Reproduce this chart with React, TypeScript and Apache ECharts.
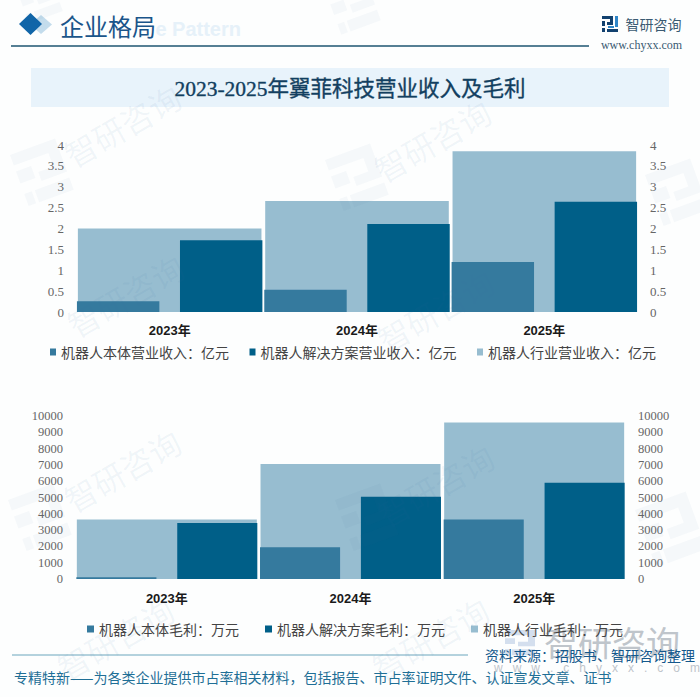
import React, { useEffect, useRef } from "react";
import * as echarts from "echarts";

const years = ["2023年", "2024年", "2025年"];
const revenueBody = [0.26, 0.53, 1.2];
const revenueSolution = [1.72, 2.11, 2.64];
const revenueIndustry = [2.0, 2.66, 3.85];
const profitBody = [100, 1950, 3650];
const profitSolution = [3440, 5050, 5900];
const profitIndustry = [3650, 7050, 9600];

const revenueNames = ["机器人本体营业收入：亿元", "机器人解决方案营业收入：亿元", "机器人行业营业收入：亿元"];
const profitNames = ["机器人本体毛利：万元", "机器人解决方案毛利：万元", "机器人行业毛利：万元"];

const mainTitle = "2023-2025年翼菲科技营业收入及毛利";
const sectionTitle = "企业格局";
const sourceText = "资料来源：招股书、智研咨询整理";
const footerText = "专精特新——为各类企业提供市占率相关材料，包括报告、市占率证明文件、认证宣发文章、证书";

const C_BODY = "#357a9e";
const C_SOL = "#005f88";
const C_IND = "#97bdd0";
const CJK = '"Noto Sans CJK SC", sans-serif';

const LOGO_D = "M0 0H11V9H5V6H8V3H0ZM0 5H3V10H0ZM0 12H3V16H0ZM5 13H16V16H5Z";
const LOGO_D2 = "M13 0H16V11H13ZM6 10H12V12H6Z";
const MARK_D = "M0 0H60V44H26V32H46V14H0ZM0 22H20V38H0ZM14 52H60V68H14ZM0 52H10V68H0Z";

function wmText(x: number, y: number, size: number, rot = 0.52) {
  return {
    type: "text", x, y, rotation: rot, z: 50, silent: true,
    style: { text: "智研咨询", fill: "rgba(60,110,160,0.065)", font: `${size}px ${CJK}`, textAlign: "center", textVerticalAlign: "middle" },
  };
}
function wmMark(x: number, y: number, s: number) {
  return { type: "wmMark", x, y, scaleX: s, scaleY: s, rotation: 0.35, z: 50, silent: true, style: { fill: "rgba(60,110,160,0.04)" } };
}
function txt(text: string, x: number, y: number, font: string, fill: string, align = "left", z = 60) {
  return { type: "text", x, y, z, silent: true, style: { text, font, fill, textAlign: align, textVerticalAlign: "middle" } };
}

function panel(i: number, names: string[], body: number[], sol: number[], ind: number[], widths: [string, string, string]) {
  return [
    { name: names[2], type: "bar", xAxisIndex: i * 2 + 1, yAxisIndex: i * 2, data: ind, barWidth: widths[1], z: 1, itemStyle: { color: C_IND } },
    { name: names[0], type: "bar", xAxisIndex: i * 2, yAxisIndex: i * 2, data: body, barWidth: widths[0], barGap: widths[2], z: 3, itemStyle: { color: C_BODY } },
    { name: names[1], type: "bar", xAxisIndex: i * 2, yAxisIndex: i * 2, data: sol, barWidth: widths[0], barGap: widths[2], z: 3, itemStyle: { color: C_SOL } },
  ];
}

function xAxes(i: number, margin: number) {
  return [
    {
      type: "category", gridIndex: i, data: years,
      axisLine: { show: false }, axisTick: { show: false },
      axisLabel: { margin, color: "#1a1a1a", fontWeight: "bold", fontSize: 13, fontFamily: '"Liberation Sans", "Noto Sans CJK SC", sans-serif' },
    },
    { type: "category", gridIndex: i, data: years, show: false },
  ];
}
function yAxes(i: number, max: number, interval: number, fs: number) {
  const base = {
    type: "value", gridIndex: i, min: 0, max, interval,
    splitLine: { show: false }, axisLine: { show: false }, axisTick: { show: false },
  };
  const label = { color: "#666", fontSize: fs, fontFamily: '"Liberation Serif", serif', margin: 12, formatter: (v: number) => String(v) };
  return [
    { ...base, position: "left", axisLabel: label },
    { ...base, position: "right", axisLabel: label },
  ];
}

export default function App() {
  const ref = useRef<HTMLDivElement>(null);
  useEffect(() => {
    echarts.graphic.registerShape("logoMark", echarts.graphic.extendPath(LOGO_D, {}) as any);
    echarts.graphic.registerShape("logoMark2", echarts.graphic.extendPath(LOGO_D2, {}) as any);
    echarts.graphic.registerShape("wmMark", echarts.graphic.extendPath(MARK_D, {}) as any);

    const chart = echarts.init(ref.current!, undefined, { renderer: "svg" });
    const graphicEls: any[] = [
      { type: "rect", z: 0, silent: true, shape: { x: 31, y: 68, width: 638, height: 39 }, style: { fill: "#e8f3fb" } },
      txt("e Pattern", 241, 29, `bold 20px "Liberation Sans", sans-serif`, "#e6f1f9", "right", 0),
      { type: "polygon", z: 1, silent: true, shape: { points: [[41, 15], [52, 24.5], [41, 34], [30, 24.5]] }, style: { fill: "#c3dcec" } },
      { type: "polygon", z: 2, silent: true, shape: { points: [[30.5, 13], [42, 24], [30.5, 35], [19, 24]] }, style: { fill: "#1065a8" } },
      txt(sectionTitle, 60, 25, `24px ${CJK}`, "#1a558a"),
      { type: "line", z: 1, silent: true, shape: { x1: 11, y1: 46, x2: 589, y2: 46 }, style: { stroke: "#1c5570", lineWidth: 1.3 } },
      { type: "logoMark", x: 602, y: 16, z: 2, silent: true, style: { fill: "#12416f" } },
      { type: "logoMark2", x: 602, y: 16, z: 2, silent: true, style: { fill: "#2f86c8" } },
      txt("智研咨询", 625.5, 24, `14px ${CJK}`, "#3a5a72"),
      txt("www.chyxx.com", 641.5, 45, `12px "Liberation Serif", serif`, "#3a5a72", "center"),
      { type: "text", x: 350, y: 89, z: 60, silent: true, style: { text: mainTitle, font: `21.5px "Liberation Serif", ${CJK}`, fill: "#123f60", stroke: "#123f60", lineWidth: 0.35, textAlign: "center", textVerticalAlign: "middle" } },
      { type: "line", z: 1, silent: true, shape: { x1: 12, y1: 655, x2: 468, y2: 655 }, style: { stroke: "#6aa6bd", lineWidth: 1 } },
      { type: "wmMark", x: 505, y: 630, scaleX: 0.5, scaleY: 0.37, z: 1, silent: true, style: { fill: "#d4dfee" } },
      txt("智研咨询", 612, 641, `34px ${CJK}`, "#bfc5cb", "center", 1),
      txt("w   w   w   .   c   h   y   x   x   .   c   o   m", 597, 668, `12px "Liberation Sans", sans-serif`, "#bfc5cb", "center", 1),
      txt(sourceText, 485, 655, `14px ${CJK}`, "#14588c"),
      txt(footerText, 14, 677, `14px ${CJK}`, "#1f6f96"),
      wmText(122, 125, 32), wmText(432, 140, 32), wmText(125, 295, 32), wmText(435, 310, 32),
      wmText(122, 470, 32), wmText(435, 485, 32), wmText(115, 638, 32), wmText(430, 638, 32),
      wmMark(10, 155, 0.8), wmMark(325, 160, 0.8), wmMark(645, 175, 0.8), wmMark(8, 500, 0.8),
      wmMark(325, -10, 0.7), wmMark(635, 510, 0.9), wmMark(15, -15, 0.6), wmMark(335, 500, 0.8),
    ];

    const legendText = { fontSize: 14, color: "#444", fontFamily: CJK };
    const option: any = {
      animation: false,
      backgroundColor: "#fdfefe",
      grid: [
        { left: 76, right: 62, top: 145, height: 167 },
        { left: 75, right: 74, top: 416, height: 163 },
      ],
      xAxis: [...xAxes(0, 12), ...xAxes(1, 13)],
      yAxis: [...yAxes(0, 4, 0.5, 13), ...yAxes(1, 10000, 1000, 12.5)],
      legend: [
        {
          left: 50, top: 345, padding: 0, itemWidth: 6, itemHeight: 7, itemGap: 20.5, icon: "rect",
          data: [revenueNames[0], revenueNames[1], revenueNames[2]],
          textStyle: legendText,
        },
        {
          left: 87, top: 622, padding: 0, itemWidth: 7, itemHeight: 7, itemGap: 26, icon: "rect",
          data: [profitNames[0], profitNames[1], profitNames[2]],
          textStyle: legendText,
        },
      ],
      series: [
        ...panel(0, revenueNames, revenueBody, revenueSolution, revenueIndustry, ["44%", "98%", "25%"]),
        ...panel(1, profitNames, profitBody, profitSolution, profitIndustry, ["43.6%", "98%", "26%"]),
      ],
      graphic: { elements: graphicEls },
    };
    chart.setOption(option);
    return () => chart.dispose();
  }, []);
  return <div ref={ref} style={{ position: "absolute", left: 0, top: 0, width: 700, height: 697 }} />;
}
